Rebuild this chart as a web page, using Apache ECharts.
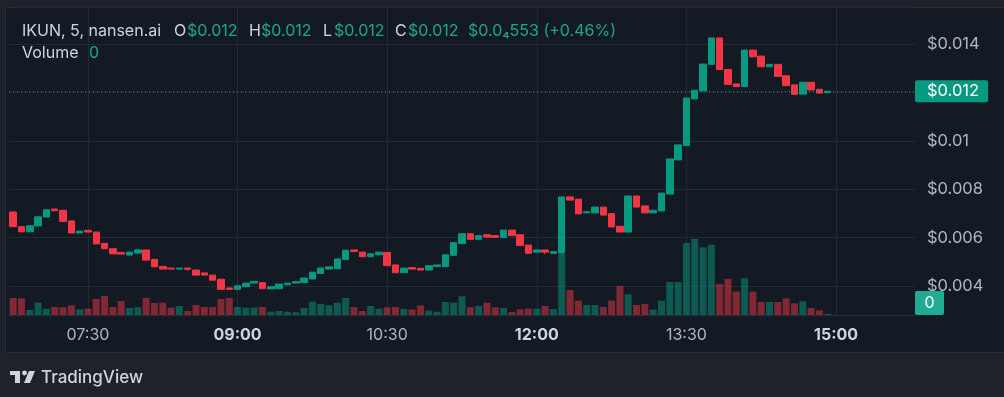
<!DOCTYPE html>
<html>
<head>
<meta charset="utf-8">
<script src="https://cdn.jsdelivr.net/npm/echarts@6/dist/echarts.min.js"></script>
<style>
  html, body { margin: 0; padding: 0; background: #1f222b; overflow: hidden; }
  #panel { position: absolute; left: 5px; top: 7px; width: 1010px; height: 346px; background: #131a24; border: 1px solid #2a2e39; box-sizing: border-box; }
  #chart { position: absolute; left: 0; top: 0; width: 1004px; height: 397px; }
</style>
</head>
<body>
<div id="panel"></div>
<div id="chart"></div>
<script>
// first candle at 06:45, 5 minute bars, axis runs on a bit past the last bar
var firstMinute = 6 * 60 + 45;
var slotCount = 109;
var timeTicks = ["07:30", "09:00", "10:30", "12:00", "13:30", "15:00"];
var boldTicks = ["09:00", "12:00", "15:00"];

var openPrices = [
    0.00706, 0.00645, 0.00624, 0.00648, 0.00685, 0.00718, 0.00713, 0.00669, 0.00619, 0.00630,
    0.00623, 0.00576, 0.00554, 0.00539, 0.00528, 0.00536, 0.00549, 0.00510, 0.00481, 0.00474,
    0.00470, 0.00474, 0.00466, 0.00454, 0.00445, 0.00428, 0.00392, 0.00386, 0.00397, 0.00412,
    0.00414, 0.00388, 0.00389, 0.00405, 0.00412, 0.00414, 0.00429, 0.00452, 0.00470, 0.00471,
    0.00509, 0.00549, 0.00540, 0.00521, 0.00529, 0.00539, 0.00487, 0.00455, 0.00476, 0.00473,
    0.00466, 0.00480, 0.00480, 0.00527, 0.00575, 0.00616, 0.00593, 0.00612, 0.00608, 0.00600,
    0.00631, 0.00612, 0.00569, 0.00540, 0.00549, 0.00535, 0.00536, 0.00768, 0.00759, 0.00702,
    0.00702, 0.00726, 0.00699, 0.00647, 0.00623, 0.00772, 0.00731, 0.00702, 0.00710, 0.00780,
    0.00921, 0.00980, 0.01173, 0.01206, 0.01316, 0.01425, 0.01295, 0.01235, 0.01224, 0.01375,
    0.01350, 0.01306, 0.01316, 0.01269, 0.01231, 0.01193, 0.01242, 0.01213, 0.01199
];
var closePrices = [
    0.00645, 0.00624, 0.00649, 0.00686, 0.00715, 0.00711, 0.00667, 0.00619, 0.00627, 0.00623,
    0.00574, 0.00554, 0.00533, 0.00532, 0.00540, 0.00549, 0.00507, 0.00479, 0.00470, 0.00470,
    0.00474, 0.00469, 0.00445, 0.00445, 0.00424, 0.00386, 0.00386, 0.00401, 0.00412, 0.00419,
    0.00389, 0.00397, 0.00408, 0.00412, 0.00418, 0.00433, 0.00457, 0.00474, 0.00479, 0.00512,
    0.00548, 0.00543, 0.00521, 0.00533, 0.00540, 0.00484, 0.00455, 0.00474, 0.00470, 0.00466,
    0.00484, 0.00487, 0.00529, 0.00579, 0.00616, 0.00593, 0.00608, 0.00602, 0.00601, 0.00631,
    0.00608, 0.00567, 0.00535, 0.00549, 0.00540, 0.00542, 0.00768, 0.00755, 0.00698, 0.00707,
    0.00726, 0.00693, 0.00644, 0.00623, 0.00772, 0.00726, 0.00702, 0.00713, 0.00784, 0.00925,
    0.00983, 0.01177, 0.01209, 0.01317, 0.01425, 0.01294, 0.01233, 0.01224, 0.01375, 0.01347,
    0.01306, 0.01316, 0.01266, 0.01228, 0.01192, 0.01242, 0.01210, 0.01197, 0.01205
];
// the few bars that show a wick below the body
var wickLows = { 21: 0.00462, 41: 0.00539, 64: 0.00532 };

var volumes = [
    17, 16.7, 5, 12.3, 6.3, 8, 7.7, 9.7, 5.7, 6.3,
    16, 19, 8, 14, 7, 7.7, 17, 12, 12.3, 7.3,
    9, 4, 10, 8, 8, 16, 17, 8, 7.3, 7.3,
    8, 3.3, 4, 3.3, 2.7, 7, 13.3, 11, 9.7, 12.3,
    17, 8, 4, 9, 6.3, 7.7, 8, 6, 5.5, 9.7,
    4.3, 3.3, 13, 12.3, 18.7, 7.7, 9, 12.3, 7.7, 7,
    3, 5.7, 6.3, 6.3, 9, 6, 61, 25, 14.3, 10,
    10, 8, 14.3, 29, 20.7, 10, 11, 5.3, 14.3, 33,
    33, 72, 76, 67.7, 70.3, 31, 36, 23.3, 36.7, 23.3,
    13, 13, 13, 16.7, 11.7, 13.7, 7, 4.7, 1
];

var lastPriceLabel = "$0.012";
var legendItems = [
    ["IKUN, 5, nansen.ai", 22, "n"], ["O", 174, "n"], ["$0.012", 187, "g"],
    ["H", 249, "n"], ["$0.012", 261, "g"], ["L", 323, "n"], ["$0.012", 334, "g"],
    ["C", 395, "n"], ["$0.012", 408, "g"], ["$0.0\u2084553 (+0.46%)", 468, "g"]
];

var upColor = "#089981";
var downColor = "#f23645";
var gridColor = "#222a35";
var font = "Inter";

var categories = [];
for (var k = 0; k < slotCount; k++) {
    var m = firstMinute + k * 5;
    var hh = Math.floor(m / 60), mm = m % 60;
    categories.push((hh < 10 ? "0" : "") + hh + ":" + (mm < 10 ? "0" : "") + mm);
}

var candleData = openPrices.map(function (o, i) {
    var c = closePrices[i];
    var lo = wickLows[i] != null ? wickLows[i] : Math.min(o, c);
    return [o, c, lo, Math.max(o, c)];
});
var volumeData = volumes.map(function (v, i) {
    var up = closePrices[i] >= openPrices[i];
    return { value: v, itemStyle: { color: up ? "rgba(8,153,129,0.5)" : "rgba(242,54,69,0.5)" } };
});

function txt(x, y, text, color, size, weight) {
    return {
        type: "text", x: x, y: y, z: 10,
        style: { text: text, fill: color, fontSize: size, fontFamily: font, fontWeight: weight || "normal", verticalAlign: "middle" }
    };
}

var graphics = legendItems.map(function (it) {
    return txt(it[1], 31, it[0], it[2] === "g" ? "#1fa68d" : "#d1d4dc", 16);
});
graphics.push(txt(22, 53, "Volume", "#d1d4dc", 16));
graphics.push(txt(89, 53, "0", "#1fa68d", 16));
// volume scale badge
graphics.push({ type: "rect", z: 20, shape: { x: 915, y: 291, width: 29, height: 24, r: [2, 2, 2, 2] }, style: { fill: "#22ab94" } });
graphics.push({ type: "text", z: 21, x: 929.5, y: 303, style: { text: "0", fill: "#ffffff", fontSize: 16, fontFamily: font, align: "center", verticalAlign: "middle" } });
// TradingView logo
graphics.push({ type: "rect", shape: { x: 10, y: 371, width: 10, height: 4 }, style: { fill: "#d1d4dc" } });
graphics.push({ type: "rect", shape: { x: 15, y: 371, width: 5, height: 12 }, style: { fill: "#d1d4dc" } });
graphics.push({ type: "circle", shape: { cx: 24.5, cy: 373, r: 2.4 }, style: { fill: "#d1d4dc" } });
graphics.push({ type: "polygon", shape: { points: [[29, 371], [35, 371], [30, 383], [24, 383]] }, style: { fill: "#d1d4dc" } });
graphics.push(txt(41, 378, "TradingView", "#d1d4dc", 17, 500));

var chart = echarts.init(document.getElementById("chart"));
chart.setOption({
    animation: false,
    backgroundColor: "transparent",
    textStyle: { fontFamily: font },
    grid: [
        { left: 9, right: 89, top: 7, bottom: 62.6 },
        { left: 9, right: 89, top: 7, bottom: 82 }
    ],
    xAxis: [
        { type: "category", gridIndex: 0, data: categories, show: false },
        {
            type: "category", gridIndex: 1, data: categories,
            axisLine: { lineStyle: { color: "#2a2e39" } },
            axisTick: { show: false },
            splitLine: { show: false },
            axisLabel: {
                margin: 12,
                interval: function (idx, val) { return timeTicks.indexOf(val) >= 0; },
                formatter: function (val) {
                    return boldTicks.indexOf(val) >= 0 ? "{b|" + val + "}" : "{r|" + val + "}";
                },
                rich: {
                    b: { color: "#d1d4dc", fontSize: 16, fontWeight: "bold", fontFamily: font },
                    r: { color: "#b2b5be", fontSize: 16, fontFamily: font }
                }
            }
        }
    ],
    yAxis: [
        {
            type: "value", gridIndex: 0, position: "right",
            min: 0.002, max: 0.015529, interval: 0.002,
            axisLine: { show: false }, axisTick: { show: false },
            splitLine: { showMinLine: false, lineStyle: { color: gridColor } },
            axisLabel: {
                margin: 12, color: "#b2b5be", fontSize: 16.5,
                formatter: function (v) {
                    var n = v / 0.002;
                    if (Math.abs(n - Math.round(n)) > 1e-6 || v < 0.003) return "";
                    return "$" + parseFloat(v.toFixed(3));
                }
            }
        },
        { type: "value", gridIndex: 1, min: 0, max: 308, show: false }
    ],
    series: [
        {
            type: "candlestick", xAxisIndex: 0, yAxisIndex: 0,
            data: candleData, barWidth: 7,
            itemStyle: { color: upColor, color0: downColor, borderColor: upColor, borderColor0: downColor, borderWidth: 1 },
            markLine: {
                silent: true, symbol: "none", animation: false, precision: 6,
                data: [{ yAxis: closePrices[closePrices.length - 1] }],
                lineStyle: { color: upColor, type: [1, 3], width: 1 },
                label: {
                    position: "end", distance: 0, formatter: lastPriceLabel,
                    color: "#ffffff", backgroundColor: upColor, fontSize: 16.5, fontFamily: font,
                    padding: [3, 9, 3, 12], lineHeight: 16, borderRadius: 2
                }
            }
        },
        {
            type: "bar", xAxisIndex: 1, yAxisIndex: 1,
            data: volumeData, barWidth: 7,
            markLine: {
                silent: true, symbol: "none", animation: false, z: 0,
                label: { show: false },
                lineStyle: { color: gridColor, type: "solid", width: 1 },
                data: timeTicks.map(function (t) { return { xAxis: t }; })
            }
        }
    ],
    graphic: graphics
});
</script>
</body>
</html>
